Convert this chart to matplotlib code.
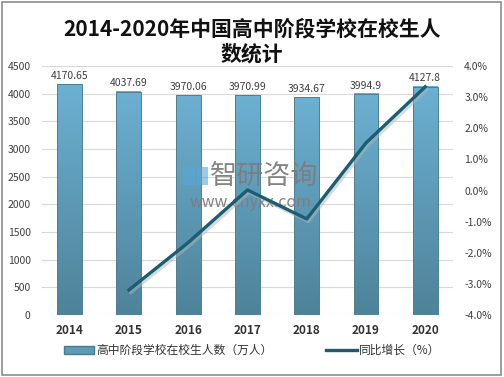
import numpy as np
import matplotlib
matplotlib.use('Agg')
import matplotlib.pyplot as plt
from matplotlib.patches import Rectangle
from matplotlib.ticker import FuncFormatter

plt.rcParams['font.family'] = ['Noto Sans CJK SC', 'DejaVu Sans']

# data
years = ['2014', '2015', '2016', '2017', '2018', '2019', '2020']
students = [4170.65, 4037.69, 3970.06, 3970.99, 3934.67, 3994.9, 4127.8]
growth_years = ['2015', '2016', '2017', '2018', '2019', '2020']
growth = [-3.19, -1.67, 0.02, -0.91, 1.53, 3.33]

fig = plt.figure(figsize=(5.04, 3.77), dpi=100)
fig.patches.append(Rectangle((0.004, 0.005), 0.99, 0.99, transform=fig.transFigure,
                             fill=False, edgecolor='#8c8c8c', linewidth=1.2))

ax = fig.add_axes([0.083, 0.164, 0.816, 0.661])
x = np.arange(len(years))
bars = ax.bar(x, students, width=0.42, color='none', edgecolor='#4f7f90', linewidth=0.7, zorder=3)

# vertical gradient inside each bar
grad = np.linspace(0, 1, 256).reshape(-1, 1)
cmap = matplotlib.colors.LinearSegmentedColormap.from_list('b', ['#6cb0d2', '#4e8399'])
for b in bars:
    x0, y0 = b.get_xy()
    ax.imshow(grad, cmap=cmap, aspect='auto', origin='upper',
              extent=[x0, x0 + b.get_width(), 0, b.get_height()], zorder=2)
for xi, v in zip(x, students):
    ax.text(xi, v + 60, f'{v:g}', ha='center', va='bottom', fontsize=7.5, color='#404040', zorder=5)

ax.set_xlim(-0.47, len(years) - 0.53)
ax.set_ylim(0, 4500)
ax.set_yticks(np.arange(0, 4501, 500))
ax.set_xticks(x)
ax.set_xticklabels(years, fontweight='bold', fontsize=8.5, color='#333333')
ax.tick_params(axis='y', labelsize=7.5, colors='#404040', length=0, pad=8)
ax.tick_params(axis='x', length=0, pad=6)
ax.grid(axis='y', color='#d9d9d9', linewidth=0.8, zorder=0)
for s in ax.spines.values():
    s.set_visible(False)

ax2 = ax.twinx()
gx = [years.index(y) for y in growth_years]

# watermark
ax2.text(0.524, 0.531, '智研咨询', transform=fig.transFigure, fontsize=19.5, color='#7d7d7d',
         alpha=0.95, ha='center', va='center', zorder=1)
ax2.text(0.498, 0.464, 'www.chyxx.com', transform=fig.transFigure, fontsize=11.5, color='#7d7d7d',
         alpha=0.95, ha='center', va='center', zorder=1)
for rx, ry, rw, rh in [(0.364, 0.508, 0.022, 0.05), (0.390, 0.508, 0.022, 0.05)]:
    ax2.add_patch(Rectangle((rx, ry), rw, rh, transform=fig.transFigure, facecolor='#5aa6d8',
                            alpha=0.6, edgecolor='none', zorder=1))

ax2.plot(np.array(gx) + 0.03, np.array(growth) - 0.08, color='#b0b8ba', linewidth=2.4, alpha=0.5, zorder=3)
line, = ax2.plot(gx, growth, color='#1b5d72', linewidth=2.4, zorder=4)
ax2.set_ylim(-4, 4)
ax2.set_yticks(np.arange(-4, 4.01, 1))
ax2.yaxis.set_major_formatter(FuncFormatter(lambda v, p: f'{v:.1f}%'))
ax2.tick_params(axis='y', labelsize=7.5, colors='#404040', length=0, pad=8)
for s in ax2.spines.values():
    s.set_visible(False)

fig.text(0.5, 0.89, '2014-2020年中国高中阶段学校在校生人\n数统计', fontsize=15, fontweight='bold',
         ha='center', va='center', linespacing=1.25, color='#111111')

handles = [Rectangle((0, 0), 1, 1, facecolor='#5f9ab6', edgecolor='#4a7a8c'), line]
fig.legend(handles, ['高中阶段学校在校生人数（万人）', '同比增长（%）'], loc='lower center',
           bbox_to_anchor=(0.5, 0.025), ncol=2, frameon=False, fontsize=8.5,
           handlelength=2.6, handleheight=0.6, handletextpad=0.2, columnspacing=4.5,
           labelcolor='#333333')

fig.savefig('out.png', dpi=100)
